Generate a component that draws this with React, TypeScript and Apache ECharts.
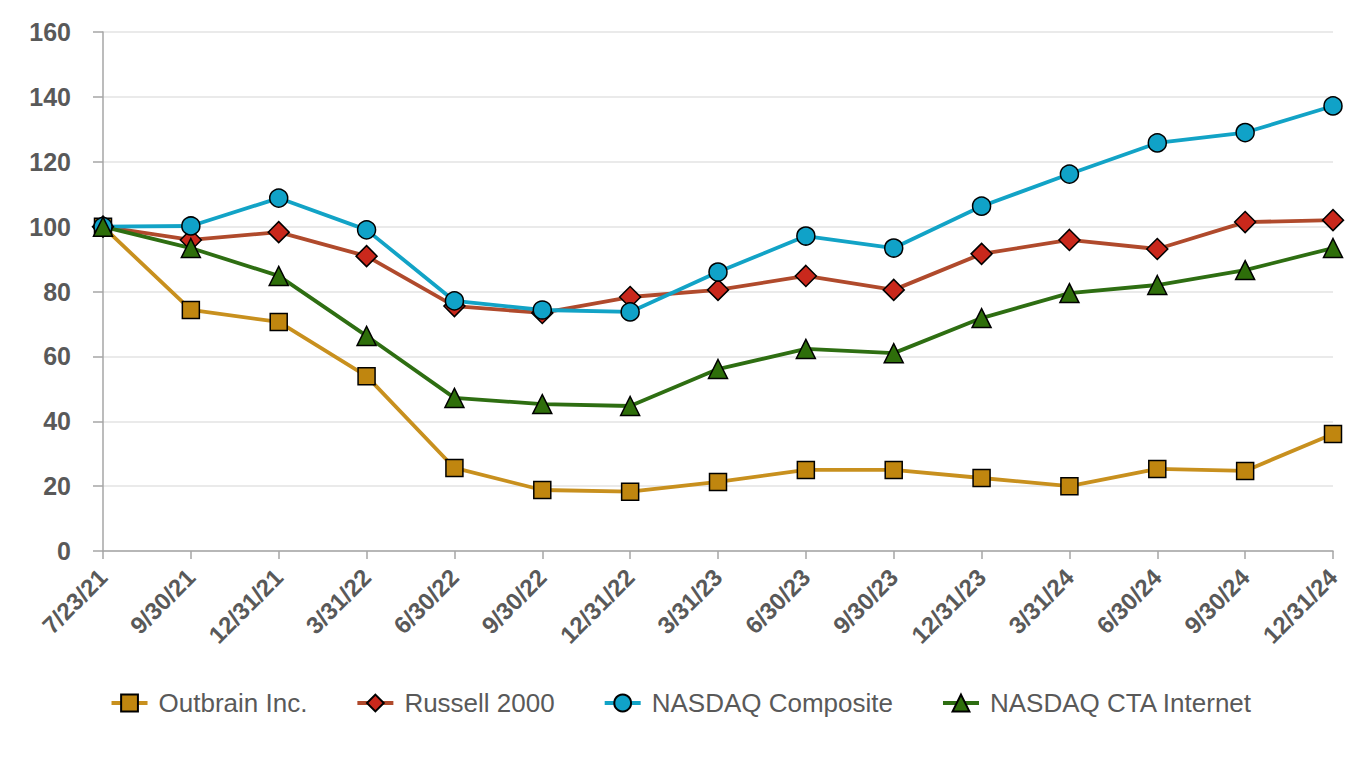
import React, { useEffect, useRef } from "react";
import * as echarts from "echarts";

const categories = ["7/23/21","9/30/21","12/31/21","3/31/22","6/30/22","9/30/22","12/31/22","3/31/23","6/30/23","9/30/23","12/31/23","3/31/24","6/30/24","9/30/24","12/31/24"];
const outbrain = [100, 74.3, 70.6, 53.9, 25.6, 18.8, 18.3, 21.3, 25.0, 25.0, 22.5, 20.0, 25.3, 24.7, 36.1];
const russell = [100, 95.9, 98.3, 90.9, 75.5, 73.4, 78.3, 80.5, 84.8, 80.5, 91.6, 95.9, 93.1, 101.4, 102.0];
const nasdaq = [100, 100.2, 108.8, 99.0, 77.1, 74.3, 73.7, 86.0, 97.1, 93.4, 106.3, 116.2, 125.8, 129.0, 137.2];
const cta = [100, 93.4, 84.8, 66.3, 47.2, 45.3, 44.7, 56.1, 62.3, 61.0, 71.8, 79.5, 82.0, 86.6, 93.4];
const yTicks = { min: 0, max: 160, interval: 20 };

export default function App() {
  const ref = useRef<HTMLDivElement>(null);
  useEffect(() => {
    if (!ref.current) return;
    const chart = echarts.init(ref.current, null, { renderer: "svg" });
    const font = "Liberation Sans, Arial, sans-serif";
    const mk = (name: string, data: number[], line: string, fill: string, symbol: string, size: number) => ({
      name,
      type: "line",
      data,
      symbol,
      symbolSize: size,
      lineStyle: { color: line, width: 3.8 },
      itemStyle: { color: fill, borderColor: "#000", borderWidth: 1.5 },
      z: 2,
    });
    chart.setOption({
      animation: false,
      backgroundColor: "#fff",
      grid: { left: 95, right: 21, top: 24, bottom: 201, containLabel: false },
      legend: {
        top: 677,
        left: "center",
        itemWidth: 36,
        itemHeight: 21,
        itemGap: 48,
        lineStyle: { width: 4 },
        textStyle: { color: "#595959", fontSize: 26, fontFamily: font, padding: [0, 0, 0, 6] },
        data: ["Outbrain Inc.", "Russell 2000", "NASDAQ Composite", "NASDAQ CTA Internet"],
      },
      xAxis: {
        type: "category",
        data: categories,
        boundaryGap: false,
        axisLine: { lineStyle: { color: "#A6A6A6", width: 1.5 } },
        axisTick: { show: true, length: 8, lineStyle: { color: "#A6A6A6", width: 1.5 } },
        axisLabel: { rotate: 45, color: "#595959", fontWeight: "bold", fontSize: 24, fontFamily: font, margin: 22, interval: 0 },
        splitLine: { show: false },
      },
      yAxis: {
        type: "value",
        min: yTicks.min,
        max: yTicks.max,
        interval: yTicks.interval,
        axisLine: { show: true, lineStyle: { color: "#A6A6A6", width: 1.5 } },
        axisTick: { show: true, length: 10, lineStyle: { color: "#A6A6A6", width: 1.5 } },
        axisLabel: { color: "#595959", fontWeight: "bold", fontSize: 25, fontFamily: font, margin: 32 },
        splitLine: { show: true, lineStyle: { color: "#E3E3E3", width: 1.5 } },
      },
      series: [
        mk("Outbrain Inc.", outbrain, "#C8901E", "#C0860F", "rect", 17),
        mk("Russell 2000", russell, "#B04A2C", "#C9281C", "diamond", 21),
        mk("NASDAQ Composite", nasdaq, "#12A3C6", "#10A2C8", "circle", 18),
        mk("NASDAQ CTA Internet", cta, "#2E6E12", "#2E6E0A", "triangle", 19),
      ],
    });
    return () => chart.dispose();
  }, []);
  return <div ref={ref} style={{ width: 1346, height: 744 }} />;
}
